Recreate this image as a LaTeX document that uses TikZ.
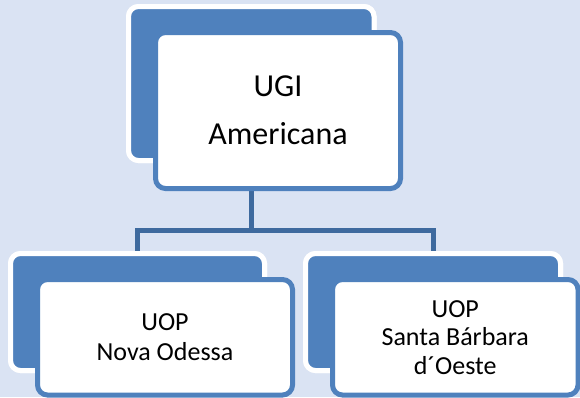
\documentclass[tikz,border=0pt]{standalone}
\usepackage{fontspec}
\setmainfont{Carlito}
\definecolor{bgblue}{HTML}{DAE3F3}
\definecolor{boxblue}{HTML}{4F81BD}
\definecolor{linkblue}{HTML}{3E6A9E}
\begin{document}
\begin{tikzpicture}[x=1pt,y=-1pt,
  backbox/.style={draw=white, fill=boxblue, line width=5pt, rounded corners=10pt, inner sep=0pt},
  frontbox/.style={draw=boxblue, fill=white, line width=5pt, rounded corners=10pt, inner sep=0pt, align=center, text=black},
  conn/.style={draw=linkblue, line width=5pt}]
\fill[bgblue] (0,0) rectangle (580,397);
\useasboundingbox (0,0) rectangle (580,397);
\coordinate (bus) at (0,230.5);
% back boxes
\node[backbox, minimum width=245.5pt, minimum height=154pt] (ugiback) at (251.25,83.5) {};
\node[backbox, minimum width=254pt, minimum height=117pt] (novaback) at (137.5,312) {};
\node[backbox, minimum width=255pt, minimum height=117pt] (sbback) at (433,312) {};
% connectors
\draw[conn] (ugiback.center) -- (ugiback.center |- bus);
\draw[conn] (novaback.center) |- (sbback.center |- bus) -- (sbback.center);
% redraw back boxes over connectors
\node[backbox, minimum width=245.5pt, minimum height=154pt] at (ugiback.center) {};
\node[backbox, minimum width=254pt, minimum height=117pt] at (novaback.center) {};
\node[backbox, minimum width=255pt, minimum height=117pt] at (sbback.center) {};
% front boxes
\node[frontbox, minimum width=245pt, minimum height=156pt, font=\fontsize{32}{48}\selectfont] (ugi) at (278,110.5) {UGI\\Americana};
\node[frontbox, minimum width=255pt, minimum height=115.5pt, font=\fontsize{26}{29.5}\selectfont] (nova) at (165,337.25) {UOP\\Nova Odessa};
\node[frontbox, minimum width=245.5pt, minimum height=115.5pt, font=\fontsize{26}{28.5}\selectfont] (sb) at (455.25,337.25) {UOP\\Santa Bárbara\\d´Oeste};
\end{tikzpicture}
\end{document}
